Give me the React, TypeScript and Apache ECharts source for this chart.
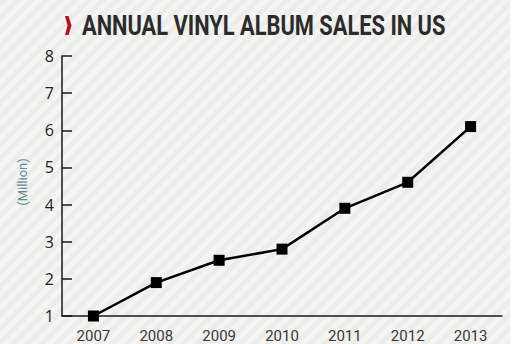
import React, { useEffect, useRef } from "react";
import * as echarts from "echarts";

const years = ["2007", "2008", "2009", "2010", "2011", "2012", "2013"];
const sales = [1.0, 1.9, 2.5, 2.8, 3.9, 4.6, 6.1];
const titleText = "ANNUAL VINYL ALBUM SALES IN US";
const yAxisName = "(Million)";

export default function App() {
  const ref = useRef<HTMLDivElement>(null);
  useEffect(() => {
    document.body.style.margin = "0";
    const chart = echarts.init(ref.current!, null, { renderer: "svg" });
    chart.setOption({
      animation: false,
      backgroundColor: "transparent",
      grid: { left: 62, right: 17, top: 56, bottom: 28, containLabel: false, outerBoundsMode: "none" },
      graphic: [
        {
          type: "polygon",
          shape: {
            points: [
              [65, 16],
              [68.5, 16],
              [71.5, 25.5],
              [68.5, 35],
              [65, 35],
              [67.5, 25.5],
            ],
          },
          style: { fill: "#b5121b" },
        },
        {
          type: "text",
          x: 82,
          y: 25.5,
          scaleX: 0.78,
          style: {
            text: titleText,
            font: "bold 28px Roboto, sans-serif",
            fill: "#2b2b2b",
            verticalAlign: "middle",
          },
        },
        {
          type: "text",
          x: 22,
          y: 182,
          rotation: Math.PI / 2,
          style: {
            text: yAxisName,
            font: "13px Roboto, sans-serif",
            fill: "#5f8f95",
            align: "center",
            verticalAlign: "middle",
          },
        },
      ],
      xAxis: {
        type: "category",
        data: years,
        boundaryGap: true,
        axisLine: { lineStyle: { color: "#1a1a1a", width: 1.5 } },
        axisTick: { inside: true, length: 5, lineStyle: { color: "#1a1a1a", width: 1.5 } },
        axisLabel: {
          color: "#3a3a3a",
          fontSize: 15,
          fontFamily: "Roboto, sans-serif",
          margin: 12,
        },
      },
      yAxis: {
        type: "value",
        min: 1,
        max: 8,
        interval: 1,
        splitLine: { show: false },
        axisLine: { show: true, lineStyle: { color: "#1a1a1a", width: 1.5 } },
        axisTick: { show: true, inside: true, length: 10, lineStyle: { color: "#1a1a1a", width: 1.5 } },
        axisLabel: {
          color: "#222",
          fontSize: 16,
          fontFamily: "'Open Sans', sans-serif",
          margin: 8,
        },
      },
      series: [
        {
          type: "line",
          data: sales,
          symbol: "rect",
          symbolSize: 11,
          lineStyle: { color: "#000", width: 2.5 },
          itemStyle: { color: "#000" },
        },
      ],
    });
    return () => chart.dispose();
  }, []);
  return (
    <div
      style={{
        position: "fixed",
        left: 0,
        top: 0,
        width: 519,
        height: 344,
        background:
          "linear-gradient(to right, transparent 0, transparent 510px, #ffffff 510px), repeating-linear-gradient(-45deg, #f4f4f2 0px, #f4f4f2 5px, #ececea 5px, #ececea 10px)",
      }}
    >
      <div ref={ref} style={{ width: 519, height: 344 }} />
    </div>
  );
}
